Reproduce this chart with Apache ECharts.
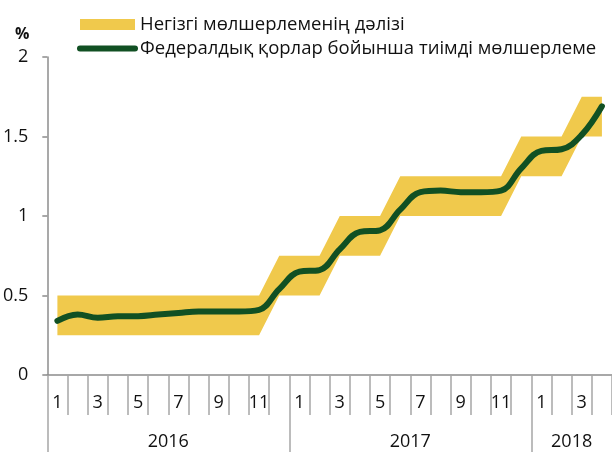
<!DOCTYPE html>
<html>
  <head>
    <meta charset="utf-8" />
    <title>Федералдық қорлар мөлшерлемесі</title>
    <script src="https://cdn.jsdelivr.net/npm/echarts@6/dist/echarts.min.js"></script>
    <style>
      * {
        margin: 0;
        padding: 0;
        box-sizing: border-box;
      }
    </style>
  </head>
  <body>
    <div id="main" style="width: 612px; height: 452px"></div>
    <script type="text/javascript">
      var myChart = echarts.init(document.getElementById("main"));

      // жылдар мен айлар
      const years = ["2016", "2017", "2018"];
      const monthsInYear = [12, 12, 4];
      const months = [
        "1", "2", "3", "4", "5", "6", "7", "8", "9", "10", "11", "12",
        "1", "2", "3", "4", "5", "6", "7", "8", "9", "10", "11", "12",
        "1", "2", "3", "4",
      ];

      // дәліздің төменгі және жоғарғы шегі, %
      const corridorLow = [
        0.25, 0.25, 0.25, 0.25, 0.25, 0.25, 0.25, 0.25, 0.25, 0.25, 0.25, 0.5,
        0.5, 0.5, 0.75, 0.75, 0.75, 1.0, 1.0, 1.0, 1.0, 1.0, 1.0, 1.25,
        1.25, 1.25, 1.5, 1.5,
      ];
      const corridorHigh = [
        0.5, 0.5, 0.5, 0.5, 0.5, 0.5, 0.5, 0.5, 0.5, 0.5, 0.5, 0.75,
        0.75, 0.75, 1.0, 1.0, 1.0, 1.25, 1.25, 1.25, 1.25, 1.25, 1.25, 1.5,
        1.5, 1.5, 1.75, 1.75,
      ];
      // тиімді мөлшерлеме, %
      const effRate = [
        0.34, 0.38, 0.36, 0.37, 0.37, 0.38, 0.39, 0.4, 0.4, 0.4, 0.41, 0.54,
        0.65, 0.66, 0.79, 0.9, 0.91, 1.04, 1.15, 1.16, 1.15, 1.15, 1.16, 1.3,
        1.41, 1.42, 1.51, 1.69,
      ];

      const bandName = "Негізгі мөлшерлеменің дәлізі";
      const lineName = "Федералдық қорлар бойынша тиімді мөлшерлеме";

      // жыл шекаралары мен орталары
      const yearStarts = [];
      const yearMids = [];
      let acc = 0;
      monthsInYear.forEach((n) => {
        yearStarts.push(acc);
        yearMids.push(acc + n / 2);
        acc += n;
      });

      const font = "Open Sans";
      const axisGray = "#8c8c8c";
      const tickGray = "#a6a6a6";

      var option = {
        animation: false,
        textStyle: { fontFamily: font },
        legend: {
          orient: "vertical",
          left: 77,
          top: 15,
          padding: 0,
          itemGap: 5,
          itemWidth: 55,
          itemHeight: 11,
          textStyle: { fontFamily: font, fontSize: 18.5, color: "#111" },
          data: [
            {
              name: bandName,
              icon: "rect",
              itemStyle: { color: "#f0c94c" },
            },
            {
              name: lineName,
              itemStyle: { opacity: 0 },
              lineStyle: { width: 6, cap: "round", color: "#115023", opacity: 1 },
            },
          ],
        },
        grid: {
          left: 46,
          top: 57,
          width: 572,
          height: 318,
        },
        xAxis: [
          {
            type: "category",
            data: months,
            boundaryGap: true,
            axisLine: { lineStyle: { color: axisGray, width: 1.5 } },
            axisTick: {
              show: true,
              interval: 0,
              length: 40,
              lineStyle: { color: tickGray, width: 1.5 },
            },
            axisLabel: {
              interval: 1,
              margin: 19,
              fontSize: 18,
              color: "#111",
              fontFamily: font,
            },
          },
          {
            type: "value",
            min: 0,
            max: months.length,
            position: "bottom",
            axisLine: { show: false },
            splitLine: { show: false },
            axisTick: {
              show: true,
              customValues: yearStarts,
              length: 80,
              lineStyle: { color: tickGray, width: 1.5 },
            },
            axisLabel: {
              customValues: yearMids,
              margin: 58,
              fontSize: 18,
              color: "#111",
              fontFamily: font,
              formatter: function (v) {
                return years[yearMids.indexOf(v)];
              },
            },
          },
        ],
        yAxis: {
          type: "value",
          min: 0,
          max: 2,
          interval: 0.5,
          name: "%",
          nameLocation: "end",
          nameGap: 15,
          nameTextStyle: {
            align: "right",
            padding: [0, 18, 0, 0],
            fontWeight: "bold",
            fontSize: 16,
            color: "#111",
            fontFamily: font,
          },
          axisLine: { show: true, lineStyle: { color: axisGray, width: 1.5 } },
          axisTick: {
            show: true,
            length: 5,
            lineStyle: { color: axisGray, width: 1.5 },
          },
          splitLine: { show: false },
          axisLabel: {
            margin: 19,
            fontSize: 18,
            color: "#111",
            fontFamily: font,
          },
        },
        series: [
          {
            name: "low",
            type: "line",
            stack: "band",
            data: corridorLow,
            symbol: "none",
            lineStyle: { width: 0 },
            silent: true,
          },
          {
            name: bandName,
            type: "line",
            stack: "band",
            data: corridorHigh.map((v, i) => +(v - corridorLow[i]).toFixed(2)),
            symbol: "none",
            lineStyle: { width: 0 },
            areaStyle: { color: "#f0c94c", opacity: 1 },
            itemStyle: { color: "#f0c94c" },
          },
          {
            name: lineName,
            type: "line",
            data: effRate,
            smooth: 0.4,
            symbol: "none",
            lineStyle: { width: 6, color: "#115023", cap: "round" },
            itemStyle: { color: "#115023" },
            z: 5,
          },
        ],
      };

      myChart.setOption(option);
    </script>
  </body>
</html>
